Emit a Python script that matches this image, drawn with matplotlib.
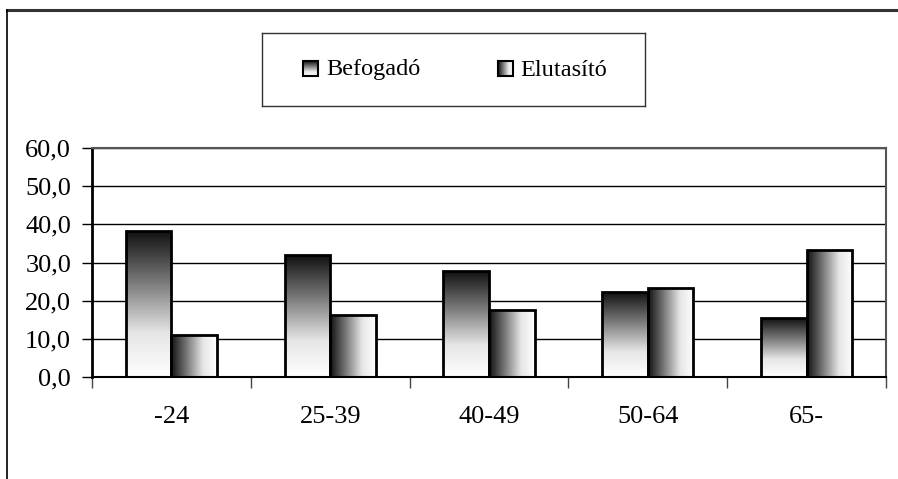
import matplotlib
matplotlib.use("Agg")
import matplotlib.pyplot as plt
import numpy as np
from matplotlib.colors import LinearSegmentedColormap
from matplotlib.lines import Line2D

categories = ["-24", "25-39", "40-49", "50-64", "65-"]
befogado = [38.2, 31.9, 27.7, 22.2, 15.4]
elutasito = [11.0, 16.2, 17.5, 23.4, 33.2]
series_names = ["Befogadó", "Elutasító"]
yticks = [0, 10, 20, 30, 40, 50, 60]

plt.rcParams['font.family'] = ['Liberation Serif', 'DejaVu Serif']

# dark -> white ramp like the old Excel gradient fill
cmap = LinearSegmentedColormap.from_list(
    "grad", [(0, "#111111"), (0.35, "#7a7a7a"), (0.7, "#e6e6e6"), (1, "#ffffff")])
vert = np.linspace(0, 1, 256).reshape(-1, 1)   # row 0 at top -> dark
horiz = np.linspace(0, 1, 256).reshape(1, -1)  # col 0 at left -> dark


def fill_gradient(ax, bar, grad):
    x0, y0 = bar.get_x(), bar.get_y()
    w, h = bar.get_width(), bar.get_height()
    im = ax.imshow(grad, cmap=cmap, vmin=0, vmax=1, aspect="auto",
                   extent=[x0, x0 + w, y0, y0 + h], origin="upper", zorder=2,
                   interpolation="bilinear")
    im.set_clip_path(bar)


fig = plt.figure(figsize=(8.98, 4.79), dpi=100)
ax = fig.add_axes([92 / 898, 1 - 377 / 479, (886 - 92) / 898, (377 - 148) / 479])

x = np.arange(len(categories))
w = 0.287
bars1 = ax.bar(x - w / 2, befogado, w, facecolor="none", edgecolor="black", lw=2, zorder=3)
bars2 = ax.bar(x + w / 2, elutasito, w, facecolor="none", edgecolor="black", lw=2, zorder=3)
for b in bars1:
    fill_gradient(ax, b, vert)
for b in bars2:
    fill_gradient(ax, b, horiz)

ax.set_xlim(-0.5, len(categories) - 0.5)
ax.set_ylim(0, 60)
ax.set_yticks(yticks)
ax.set_yticklabels([f"{v:.1f}".replace(".", ",") for v in yticks])
ax.yaxis.grid(True, color="black", lw=1)
ax.set_axisbelow(True)

ax.set_xticks(x)
ax.set_xticklabels(categories)
ax.set_xticks(np.arange(len(categories) + 1) - 0.5, minor=True)
ax.tick_params(axis="x", which="major", length=0, pad=21, labelsize=19)
ax.tick_params(axis="x", which="minor", length=8, width=1, direction="out", color="#444444")
ax.tick_params(axis="y", length=7, width=1, direction="out", pad=8, labelsize=19)

for s in ["top", "right"]:
    ax.spines[s].set_color("#555555")
    ax.spines[s].set_linewidth(1.5)
ax.spines["left"].set_linewidth(2)
ax.spines["bottom"].set_linewidth(1.5)

# legend box
lax = fig.add_axes([262 / 898, 1 - 106 / 479, (645 - 262) / 898, (106 - 33) / 479])
lax.set_xlim(0, 383)
lax.set_ylim(73, 0)
lax.set_xticks([])
lax.set_yticks([])
for s in lax.spines.values():
    s.set_color("#333333")
    s.set_linewidth(1)
for (sx, tx, grad, name) in [(41, 64, vert, series_names[0]), (236, 258, horiz, series_names[1])]:
    lax.imshow(grad, cmap=cmap, vmin=0, vmax=1, aspect="auto",
               extent=[sx, sx + 15, 43, 28], origin="upper", interpolation="bilinear")
    lax.add_patch(plt.Rectangle((sx, 28), 15, 15, fill=False, edgecolor="black", lw=1.5))
    lax.text(tx, 37, name, fontsize=17.5, va="center", ha="left")

# outer chart frame
fig.add_artist(Line2D([7 / 898, 1], [1 - 10 / 479] * 2, color="#333333", lw=2.2))
fig.add_artist(Line2D([7 / 898] * 2, [0, 1 - 10 / 479], color="black", lw=1.2))

fig.savefig("out.png", dpi=100)
